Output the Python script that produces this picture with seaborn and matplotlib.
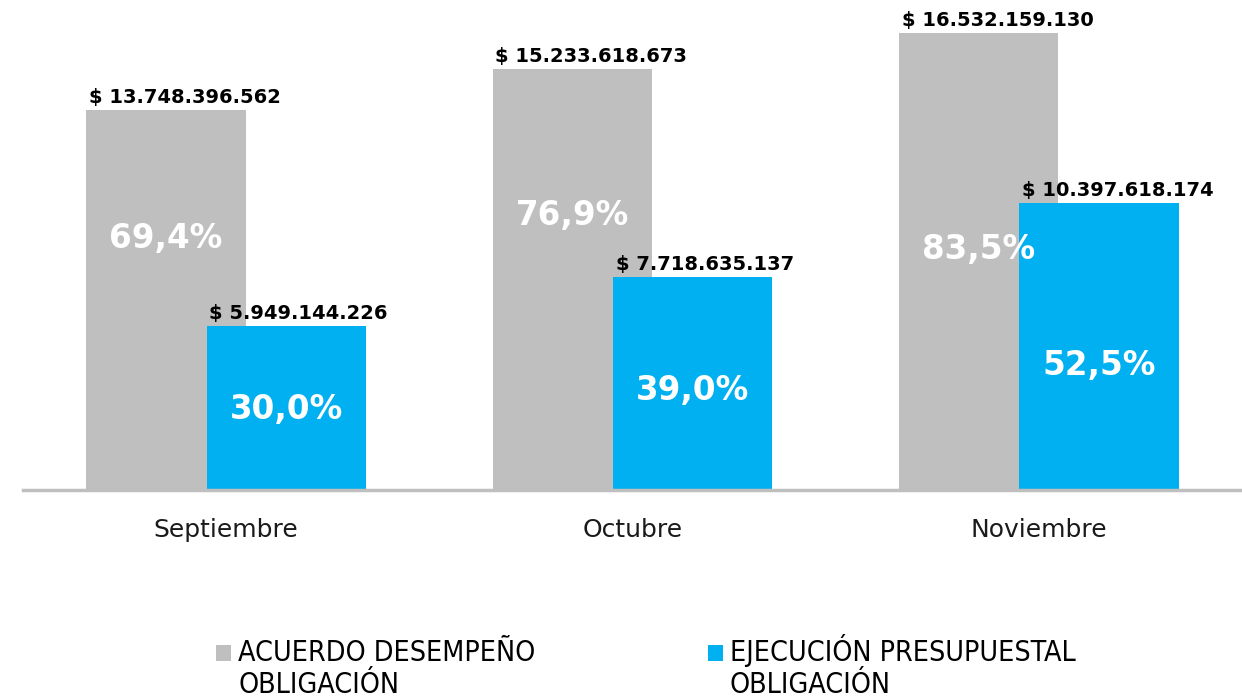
import matplotlib
matplotlib.use("Agg")
import matplotlib.pyplot as plt
import numpy as np
import pandas as pd
import seaborn as sns
from matplotlib.patches import Rectangle

MESES = ["Septiembre", "Octubre", "Noviembre"]
ACUERDO = [13748396562, 15233618673, 16532159130]
EJECUCION = [5949144226, 7718635137, 10397618174]
PCT_ACUERDO = [69.4, 76.9, 83.5]
PCT_EJECUCION = [30.0, 39.0, 52.5]
SERIES = [["ACUERDO DESEMPEÑO", "OBLIGACIÓN"], ["EJECUCIÓN PRESUPUESTAL", "OBLIGACIÓN"]]

GRIS = "#BFBFBF"
AZUL = "#00B0F0"
OFFSET = 0.148
WIDTH = 0.392
# where the percent labels sit, as a fraction of each bar height
PCT_POS_ACUERDO = [0.663, 0.653, 0.527]
PCT_POS_EJECUCION = [0.49, 0.465, 0.432]


def pesos(v: int) -> str:
    return "$ " + f"{v:,}".replace(",", ".")


def pct(v: float) -> str:
    return f"{v:.1f}%".replace(".", ",")


sns.set_theme(style="white")
plt.rcParams["font.family"] = ["DejaVu Sans"]

fig = plt.figure(figsize=(12.42, 6.98), dpi=100)
ax = fig.add_axes([23 / 1242, 1 - 490 / 698, 1 - 23 / 1242, 490 / 698])

pos = np.arange(len(MESES))
df_a = pd.DataFrame({"x": pos - OFFSET, "valor": ACUERDO})
df_e = pd.DataFrame({"x": pos + OFFSET, "valor": EJECUCION})

sns.barplot(data=df_a, x="x", y="valor", native_scale=True, width=WIDTH,
            color=GRIS, saturation=1, linewidth=0, errorbar=None, ax=ax)
sns.barplot(data=df_e, x="x", y="valor", native_scale=True, width=WIDTH,
            color=AZUL, saturation=1, linewidth=0, errorbar=None, ax=ax)

ymax = ACUERDO[-1] / (457 / 490)
ax.set_xlim(-0.5, len(MESES) - 0.5)
ax.set_ylim(0, ymax)

for i in range(len(MESES)):
    for xc, v, p, frac in [
        (pos[i] - OFFSET, ACUERDO[i], PCT_ACUERDO[i], PCT_POS_ACUERDO[i]),
        (pos[i] + OFFSET, EJECUCION[i], PCT_EJECUCION[i], PCT_POS_EJECUCION[i]),
    ]:
        ax.annotate(pesos(v), (xc - WIDTH / 2, v), xytext=(2, 2),
                    textcoords="offset points", ha="left", va="bottom",
                    fontsize=14, fontweight="bold", color="black")
        ax.text(xc, v * frac, pct(p), ha="center", va="center",
                fontsize=23.5, fontweight="bold", color="white", zorder=5)

ax.set_xticks(pos)
ax.set_xticklabels(MESES, fontsize=18, color="#1a1a1a")
ax.tick_params(axis="x", length=0, pad=20)
ax.set_yticks([])
ax.set_xlabel("")
ax.set_ylabel("")
for s in ["top", "right", "left"]:
    ax.spines[s].set_visible(False)
ax.spines["bottom"].set_color(GRIS)
ax.spines["bottom"].set_linewidth(2.5)

# legend, marker aligned with the first text line
for lx, lines, col in [(216, SERIES[0], GRIS), (708, SERIES[1], AZUL)]:
    fig.patches.append(Rectangle((lx / 1242, 1 - 661 / 698), 15 / 1242, 16 / 698,
                                 transform=fig.transFigure, color=col, lw=0))
    for k, line in enumerate(lines):
        fig.text((lx + 22) / 1242, 1 - (661 + 32 * k) / 698, line, ha="left",
                 va="baseline", fontsize=20.5, fontstretch="condensed",
                 color="black")

fig.savefig("out.png", dpi=100)
